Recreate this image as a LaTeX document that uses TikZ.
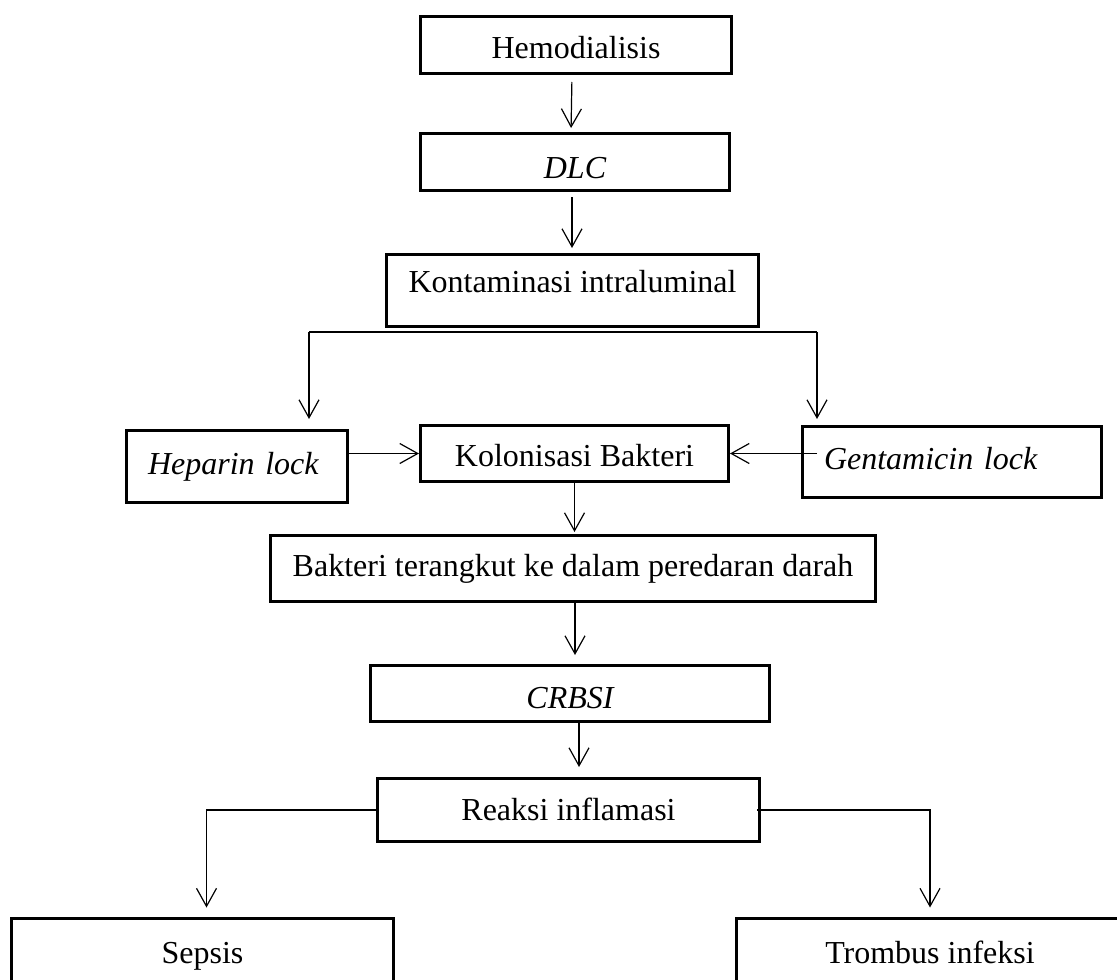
\documentclass[tikz,border=0pt]{standalone}
\usepackage{fontspec}
\setmainfont{Liberation Serif}
\usetikzlibrary{arrows.meta}
\begin{document}
\begin{tikzpicture}[x=0.5pt,y=-0.5pt,
  box/.style={draw, line width=1.5pt, rectangle, inner sep=0pt, font=\fontsize{16}{19}\selectfont, text height=11pt, text depth=3.5pt},
  lockbox/.style={box, align=left, inner xsep=10.75pt},
  arr/.style={line width=0.6pt, -{Straight Barb[length=9pt,width=10pt,line width=0.6pt]}},
  ln/.style={line width=0.6pt}]
\useasboundingbox (0,0) rectangle (1117,979);
\clip (0,0) rectangle (1117,979);
\fill[white] (0,0) rectangle (1117,979);

\node[box, minimum width=155.5pt, minimum height=28.5pt, text height=17pt] (hemo) at (576,45) {Hemodialisis};
\node[box, minimum width=154.5pt, minimum height=28.5pt, text height=20pt] (dlc) at (575,162) {\itshape DLC};
\node[box, minimum width=186pt, minimum height=36pt, text depth=9.5pt] (kont) at (572.5,290.5) {Kontaminasi intraluminal};
\node[lockbox, text width=89pt, minimum height=36pt] (hep) at (237,466.5) {\itshape Heparin lock};
\node[box, minimum width=154pt, minimum height=28pt, text height=16pt] (kol) at (574.5,453.5) {Kolonisasi Bakteri};
\node[lockbox, text width=128pt, minimum height=35.5pt] (gen) at (952,462) {\itshape Gentamicin lock};
\node[box, minimum width=302.5pt, minimum height=33pt] (bak) at (573,568.5) {Bakteri terangkut ke dalam peredaran darah};
\node[box, minimum width=199.5pt, minimum height=28pt, text height=18pt] (crb) at (570,693.5) {\itshape CRBSI};
\node[box, minimum width=191pt, minimum height=31.5pt, text height=14pt] (rea) at (568.5,810) {Reaksi inflamasi};
\node[box, minimum width=191pt, minimum height=34pt, text height=15pt] (sep) at (202.5,952) {Sepsis};
\node[box, minimum width=193.5pt, minimum height=34pt, text height=15pt] (tro) at (930,952) {Trombus infeksi};

\coordinate (brL) at (309,332);
\coordinate (brR) at (817,332);
\coordinate (hepIn) at (309,419);
\coordinate (genIn) at (817,419);
\coordinate (genOut) at (817,453.5);

\draw[arr, shorten <=3.5pt, shorten >=2pt] ([xshift=-2pt]hemo.south) -- ([xshift=-2pt]dlc.north);
\draw[arr, shorten <=2.5pt, shorten >=2.5pt] ([xshift=-1.5pt]dlc.south) -- ([xshift=-1.5pt]dlc.south |- kont.north);
\draw[ln] (brL) -- (brR);
\draw[arr] (brL) -- (hepIn);
\draw[arr] (brR) -- (genIn);
\draw[arr] (hep.east |- kol.west) -- (kol.west);
\draw[arr] (genOut) -- (kol.east);
\draw[arr, shorten >=1pt] (kol.south) -- (kol.south |- bak.north);
\draw[arr, shorten >=4.5pt] ([xshift=1pt]bak.south) -- ([xshift=1pt]bak.south |- crb.north);
\draw[arr, shorten >=5pt] ([xshift=4.5pt]crb.south) -- ([xshift=4.5pt]crb.south |- rea.north);
\draw[arr, shorten >=4.5pt] (rea.west) -| ([xshift=2pt]sep.north);
\draw[arr, shorten >=4.5pt] ([xshift=-2pt]rea.east) -| (tro.north);
\end{tikzpicture}
\end{document}
